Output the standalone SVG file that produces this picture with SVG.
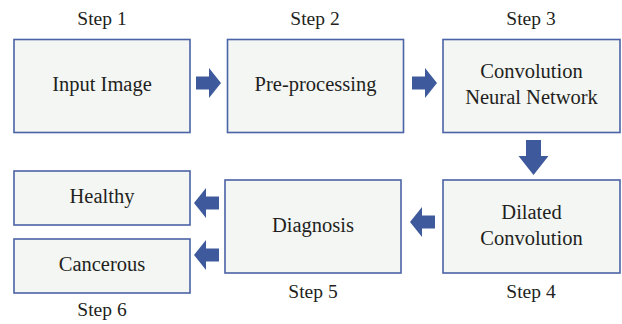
<svg xmlns="http://www.w3.org/2000/svg" width="622" height="324" viewBox="0 0 622 324">
  <defs>
    <style>
      .box { fill: #f4f6f4; stroke: #4a63a6; stroke-width: 1.6; }
      .lbl { font-family: "Liberation Serif", "Times New Roman", serif; font-size: 20.5px; fill: #231f20; text-anchor: middle; }
      .cap { font-size: 19.5px; }
      .arrow { fill: #3f5a9c; }
    </style>
    <!-- block arrow pointing right, origin at the tail centre -->
    <path id="blk" d="M0,-6.5 H13 V-15 L25,0 L13,15 V6.5 H0 Z"/>
    <!-- longer block arrow used between the two right-hand boxes -->
    <path id="blk-long" d="M0,-7.5 H16 V-15 L35,0 L16,15 V7.5 H0 Z"/>
  </defs>

  <rect width="622" height="324" fill="#ffffff"/>

  <!-- step captions -->
  <text class="lbl cap" x="102" y="25">Step 1</text>
  <text class="lbl cap" x="315" y="25">Step 2</text>
  <text class="lbl cap" x="531" y="25">Step 3</text>
  <text class="lbl cap" x="531" y="298">Step 4</text>
  <text class="lbl cap" x="313" y="298">Step 5</text>
  <text class="lbl cap" x="102" y="316">Step 6</text>

  <g id="input-image">
    <rect class="box" x="14" y="39.5" width="176" height="93"/>
    <text class="lbl" x="102" y="91">Input Image</text>
  </g>
  <g id="pre-processing">
    <rect class="box" x="227.5" y="39.5" width="176" height="93"/>
    <text class="lbl" x="315.5" y="91">Pre-processing</text>
  </g>
  <g id="cnn">
    <rect class="box" x="443" y="39.5" width="177" height="93"/>
    <text class="lbl" x="531.5" y="78">Convolution</text>
    <text class="lbl" x="531.5" y="104">Neural Network</text>
  </g>
  <g id="dilated-convolution">
    <rect class="box" x="443" y="180" width="177" height="93"/>
    <text class="lbl" x="531.5" y="219">Dilated</text>
    <text class="lbl" x="531.5" y="245">Convolution</text>
  </g>
  <g id="diagnosis">
    <rect class="box" x="225" y="180" width="176" height="93"/>
    <text class="lbl" x="313" y="232">Diagnosis</text>
  </g>
  <g id="healthy">
    <rect class="box" x="14" y="171" width="176" height="54"/>
    <text class="lbl" x="102" y="203">Healthy</text>
  </g>
  <g id="cancerous">
    <rect class="box" x="14" y="239" width="176" height="54"/>
    <text class="lbl" x="102" y="271">Cancerous</text>
  </g>

  <g id="connectors" class="arrow">
    <use href="#blk" transform="translate(196,83)"/>
    <use href="#blk" transform="translate(412,83)"/>
    <use href="#blk-long" transform="translate(533.5,140) rotate(90)"/>
    <use href="#blk" transform="translate(435,222) rotate(180)"/>
    <use href="#blk" transform="translate(219,203) rotate(180)"/>
    <use href="#blk" transform="translate(219,255) rotate(180)"/>
  </g>
</svg>
